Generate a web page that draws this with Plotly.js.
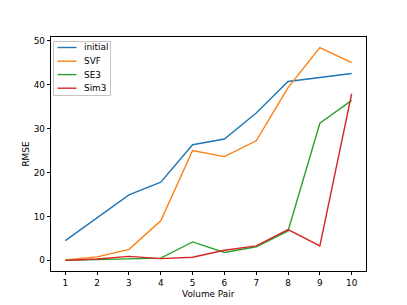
<!DOCTYPE html>
<html>
<head>
<meta charset="utf-8">
<script src="https://cdn.plot.ly/plotly-3.0.1.min.js"></script>
<style>html,body{margin:0;padding:0;background:#fff;}#chart{width:407px;height:305px;}</style>
</head>
<body>
<div id="chart"></div>
<script>
const volumePairs = [1, 2, 3, 4, 5, 6, 7, 8, 9, 10];
const initialRMSE = [4.5, 9.7, 14.9, 17.8, 26.3, 27.6, 33.5, 40.7, 41.6, 42.5];
const svfRMSE = [0.1, 0.8, 2.5, 9.0, 25.0, 23.6, 27.2, 39.3, 48.4, 45.0];
const se3RMSE = [0.0, 0.2, 0.3, 0.5, 4.2, 1.8, 3.1, 6.7, 31.2, 36.4];
const sim3RMSE = [0.0, 0.3, 0.9, 0.4, 0.7, 2.3, 3.3, 7.0, 3.3, 37.9];
const seriesNames = ["initial", "SVF", "SE3", "Sim3"];
const seriesColors = ["#1f77b4", "#ff7f0e", "#2ca02c", "#d62728"];
const seriesData = [initialRMSE, svfRMSE, se3RMSE, sim3RMSE];
const xTicks = [1, 2, 3, 4, 5, 6, 7, 8, 9, 10];
const yTicks = [0, 10, 20, 30, 40, 50];

const traces = seriesData.map((ys, i) => ({
  x: volumePairs, y: ys, type: 'scatter', mode: 'lines', name: seriesNames[i],
  line: {color: seriesColors[i], width: 1.4}, showlegend: false
}));

// plot area geometry (pixels) for legend placement
const W = 407, H = 305, mL = 51, mR = 41, mT = 37, mB = 34;
const pw = W - mL - mR, ph = H - mT - mB;
const px = X => (X - mL) / pw;
const py = Y => (H - mB - Y) / ph;

const font = {family: 'DejaVu Sans, sans-serif', size: 8.9, color: '#000'};
const shapes = [];
const annotations = [];
// legend box
shapes.push({type: 'rect', xref: 'paper', yref: 'paper', layer: 'above',
  x0: px(53.5), x1: px(110.5), y0: py(95.5), y1: py(41.5),
  fillcolor: 'rgba(255,255,255,0.8)', line: {color: '#c4c4c4', width: 1}});
const legendRows = [47.5, 61.2, 74.6, 88.2];
seriesNames.forEach((name, i) => {
  const Y = legendRows[i];
  shapes.push({type: 'line', xref: 'paper', yref: 'paper', x0: px(57.5), x1: px(76.5),
    y0: py(Y), y1: py(Y), line: {color: seriesColors[i], width: 1.4}});
  annotations.push({xref: 'paper', yref: 'paper', x: px(82), y: py(Y), xanchor: 'left', yanchor: 'middle',
    text: name, showarrow: false, font: font});
});
// x-axis title
annotations.push({xref: 'paper', yref: 'paper', x: 0.5, y: py(294), xanchor: 'center', yanchor: 'middle',
  text: 'Volume Pair', showarrow: false, font: font});

const axisCommon = {
  showline: true, linecolor: '#000', linewidth: 1, mirror: true,
  ticks: 'outside', ticklen: 3.2, tickwidth: 1, tickcolor: '#000',
  showgrid: false, zeroline: false, tickfont: font, automargin: false
};
const layout = {
  width: W, height: H,
  margin: {l: mL, r: mR, t: mT, b: mB},
  paper_bgcolor: '#fff', plot_bgcolor: '#fff',
  font: font,
  showlegend: false,
  shapes: shapes,
  annotations: annotations,
  xaxis: Object.assign({}, axisCommon, {range: [0.55, 10.45], tickvals: xTicks}),
  yaxis: Object.assign({}, axisCommon, {range: [-2.42, 50.81], tickvals: yTicks,
    title: {text: 'RMSE', font: font, standoff: 2}})
};
Plotly.newPlot('chart', traces, layout, {staticPlot: true, displayModeBar: false});
</script>
</body>
</html>
